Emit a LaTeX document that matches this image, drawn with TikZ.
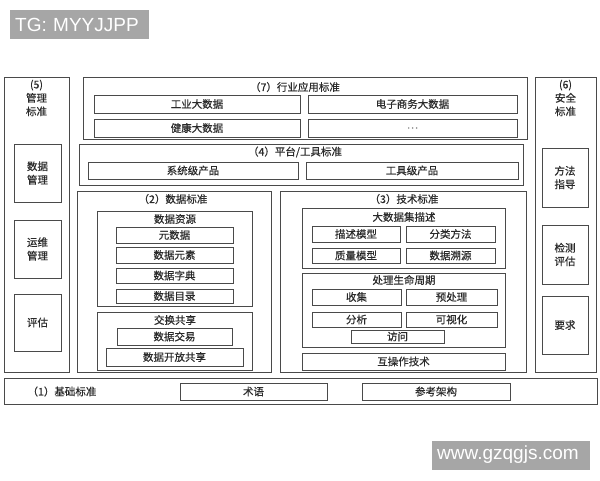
\documentclass[tikz,border=0pt]{standalone}
\usepackage{fontspec}
\setmainfont{Noto Sans CJK SC}[FakeBold=0.4,AutoFakeBold=0.4]
\newfontfamily\wmfont{Liberation Sans}
\definecolor{lc}{HTML}{4A4A4A}
\definecolor{tc}{HTML}{2A2A2A}
\definecolor{wmg}{HTML}{A6A6A6}
\tikzset{
  bx/.style={draw=lc, line width=0.65pt, inner sep=0pt, outer sep=0pt, text=tc, align=center,
    font=\fontsize{10.5}{13.5}\selectfont},
  frame/.style={line width=0.85pt},
  ttl/.style={text=tc, inner sep=0pt, align=center, font=\fontsize{10.5}{13.5}\selectfont},
  wm/.style={fill=wmg, text=white, inner ysep=0pt, inner xsep=5pt, minimum height=29pt, align=left,
    font=\wmfont\fontsize{19}{21}\selectfont, anchor=west}
}
\newcommand\bx[7][]{\node[bx,#1,minimum width={(#5-#3)*1pt},minimum height={(#6-#4)*1pt}] (#2) at ({(#3+#5)/2},{(#4+#6)/2}) {#7};}
\begin{document}
\begin{tikzpicture}[x=1pt,y=-1pt]
\useasboundingbox[fill=white] (0,0) rectangle (600,480);
% watermarks
\node[wm, text width=129pt] (tg) at (10,24.5) {TG: MYYJJPP};
\node[wm, text width=148pt] (www) at (432,455) {www.gzqgjs.com};
% (5) management
\bx[frame]{c5}{4}{77}{69}{372}{}
\node[ttl] (c5t) at (36.5,98) {(5)\\管理\\标准};
\bx{dm}{14}{144}{61}{202}{数据\\管理}
\bx{yw}{14}{220}{61}{278}{运维\\管理}
\bx{pg}{14}{294}{61}{351}{评估}
% (6) security
\bx[frame]{c6}{535}{77}{596}{372}{}
\node[ttl] (c6t) at (565.5,98) {(6)\\安全\\标准};
\bx{ff}{542}{148}{588}{207}{方法\\指导}
\bx{jc}{542}{225}{588}{284}{检测\\评估}
\bx{yq}{542}{296}{588}{354}{要求}
% (7) industry
\bx[frame]{c7}{83}{77}{527}{139}{}
\node[ttl] (c7t) at (295,87) {（7）行业应用标准};
\bx{gy}{94}{95}{300}{113}{工业大数据}
\bx{ds}{308}{95}{517}{113}{电子商务大数据}
\bx{jk}{94}{119}{300}{137}{健康大数据}
\bx{dd}{308}{119}{517}{137}{\textcolor{gray}{…}}
% (4) platform
\bx[frame]{c4}{79}{144}{523}{185}{}
\node[ttl] (c4t) at (295,152) {（4）平台/工具标准};
\bx{xt}{88}{162}{298}{179}{系统级产品}
\bx{gj}{306}{162}{518}{179}{工具级产品}
% (2) data
\bx[frame]{c2}{77}{191}{271}{372}{}
\node[ttl] (c2t) at (173,199) {（2）数据标准};
\bx{zy}{97}{211}{252}{306}{}
\node[ttl] (zyt) at (175,219) {数据资源};
\bx{yuan}{116}{227}{233}{243}{元数据}
\bx{ys}{116}{247}{233}{263}{数据元素}
\bx{zd}{116}{268}{233}{283}{数据字典}
\bx{ml}{116}{289}{233}{303}{数据目录}
\bx{jh}{97}{312}{252}{370}{}
\node[ttl] (jht) at (175,320) {交换共享};
\bx{jy}{117}{328}{232}{345}{数据交易}
\bx{kf}{106}{348}{243}{366}{数据开放共享}
% (3) technology
\bx[frame]{c3}{280}{191}{526}{372}{}
\node[ttl] (c3t) at (404,199) {（3）技术标准};
\bx{ms}{302}{208}{505}{268}{}
\node[ttl] (mst) at (404,217) {大数据集描述};
\bx{msmx}{312}{226}{400}{242}{描述模型}
\bx{flff}{406}{226}{495}{242}{分类方法}
\bx{zlmx}{312}{248}{400}{263}{质量模型}
\bx{sjsy}{406}{248}{495}{263}{数据溯源}
\bx{sm}{302}{273}{505}{347}{}
\node[ttl] (smt) at (404,280) {处理生命周期};
\bx{sj}{312}{289}{401}{305}{收集}
\bx{ycl}{406}{289}{497}{305}{预处理}
\bx{fx}{312}{312}{401}{327}{分析}
\bx{ksh}{406}{312}{497}{327}{可视化}
\bx{fw}{351}{330}{444}{343}{访问}
\bx{hcz}{302}{353}{505}{370}{互操作技术}
% (1) basic
\bx[frame]{c1}{4}{378}{597}{404}{}
\node[ttl] (c1t) at (62,391.5) {（1）基础标准};
\bx{sy}{180}{383}{327}{400}{术语}
\bx{ckjg}{362}{383}{510}{400}{参考架构}
\end{tikzpicture}
\end{document}
